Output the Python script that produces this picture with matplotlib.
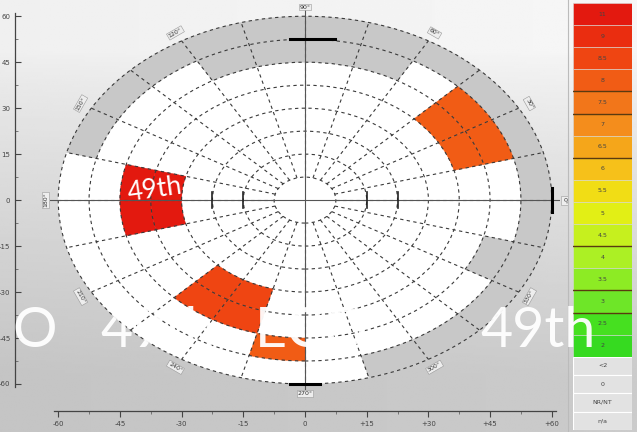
import numpy as np
import matplotlib
matplotlib.use('Agg')
import matplotlib.pyplot as plt
from matplotlib.patches import Wedge, Circle

# polar grid of the field: ring edges (deg) and sectors (deg)
ring_edges = [0, 7.5, 15, 22.5, 30, 37.5, 45, 52.5, 60]
sector_edges = list(range(0, 361, 15))
label_angles = list(range(0, 360, 30))

# legend classes, top to bottom
legend_labels = ['11', '9', '8.5', '8', '7.5', '7', '6.5', '6', '5.5', '5',
                 '4.5', '4', '3.5', '3', '2.5', '2']
legend_colors = ['#e3190f', '#ea2d10', '#ef4512', '#f15c15', '#f2761a', '#f48d1c',
                 '#f5a61a', '#f6c11a', '#f1dd15', '#e2ef15', '#c6f01e', '#acf024',
                 '#8deb24', '#6ee628', '#46e020', '#36da20']
legend_breaks = [4, 5, 7, 11, 13, 14]
extra_labels = ['<2', '0', 'NR/NT', 'n/a']

# measured cells: ring index, sector index, legend class
cell_ring = [4, 5, 4, 5, 5, 6, 5, 6, 4, 5, 4, 5, 6]
cell_sector = [11, 11, 12, 12, 1, 1, 2, 2, 15, 15, 16, 16, 17]
cell_class = [0, 0, 0, 0, 3, 3, 3, 3, 2, 2, 2, 2, 3]

# untested cells (grey): ring index, sector index
grey_ring = [7] * 11 + [7] * 5 + [6] * 4 + [6]
grey_sector = list(range(0, 11)) + list(range(19, 24)) + [4, 5, 6, 7] + [22]

xticks = [-60, -45, -30, -15, 0, 15, 30, 45, 60]
xticklabels = ['-60', '-45', '-30', '-15', '0', '+15', '+30', '+45', '+60']
yticks = [-60, -45, -30, -15, 0, 15, 30, 45, 60]
yticklabels = ['-60', '-45', '-30', '-15', '0', '15', '30', '45', '60']

fig = plt.figure(figsize=(6.37, 4.32), dpi=100)

# grey gradient backdrop
bg = fig.add_axes([0, 0, 1, 1], zorder=-10)
gy = np.linspace(0, 1, 200)[:, None]
gx = np.linspace(0, 1, 200)[None, :]
shade = 0.965 - 0.17 * np.clip((gy - 0.12) / 0.75, 0, 1) ** 0.8 - 0.025 * (1 - gx)
bg.imshow(np.clip(shade, 0, 1), cmap='gray', vmin=0, vmax=1, aspect='auto',
          extent=[0, 1, 1, 0])
bg.set_xlim(0, 1)
bg.set_ylim(1, 0)
bg.axis('off')

ax = fig.add_axes([0.0785, 0.097, 0.8006, 0.8796])
ax.set_facecolor('none')
ax.set_xlim(-62, 62)
ax.set_ylim(-62, 62)

R = ring_edges[-1]
ax.add_patch(Circle((0, 0), R, facecolor='white', edgecolor='none', zorder=1))

for r, s in zip(grey_ring, grey_sector):
    ax.add_patch(Wedge((0, 0), ring_edges[r + 1], sector_edges[s], sector_edges[s + 1],
                       width=ring_edges[r + 1] - ring_edges[r],
                       facecolor='#c8c8c8', edgecolor='#c8c8c8', lw=0.3, zorder=2))

for r, s, c in zip(cell_ring, cell_sector, cell_class):
    ax.add_patch(Wedge((0, 0), ring_edges[r + 1], sector_edges[s], sector_edges[s + 1],
                       width=ring_edges[r + 1] - ring_edges[r],
                       facecolor=legend_colors[c], edgecolor=legend_colors[c], lw=0.3, zorder=2))

# dashed grid: rings and spokes
for r in ring_edges[1:]:
    ax.add_patch(Circle((0, 0), r, fill=False, edgecolor='#3a3a3a', lw=0.8,
                        linestyle=(0, (3, 3)), zorder=3))
for a in sector_edges[:-1]:
    t = np.deg2rad(a)
    ax.plot([ring_edges[1] * np.cos(t), R * np.cos(t)],
            [ring_edges[1] * np.sin(t), R * np.sin(t)],
            color='#3a3a3a', lw=0.8, ls=(0, (3, 3)), zorder=3)

# meridian axes through the centre
ax.plot([-63, 63], [0, 0], color='#555555', lw=0.8, zorder=4)
ax.plot([0, 0], [-63, 63], color='#555555', lw=0.8, zorder=4)
for x in [-22.5, -15, 15, 22.5]:
    ax.plot([x, x], [-2.5, 2.5], color='#222222', lw=1.2, zorder=4)
ax.plot([-3.7, 7.3], [52.5, 52.5], color='black', lw=2.2, zorder=4)
ax.plot([-3.7, 3.7], [-60, -60], color='black', lw=2.2, zorder=4)
ax.plot([60, 60], [-4, 4], color='black', lw=2.2, zorder=4)

for a in label_angles:
    t = np.deg2rad(a)
    ax.text(63 * np.cos(t), 63 * np.sin(t), '%d°' % a, fontsize=4.5, color='#333333',
            ha='center', va='center', rotation=(a - 90) if a <= 180 else (a + 90),
            bbox=dict(boxstyle='square,pad=0.15', fc='#eeeeee', ec='#999999', lw=0.4),
            zorder=5)

for side in ['top', 'right']:
    ax.spines[side].set_visible(False)
ax.spines['left'].set_position(('outward', 25))
ax.spines['bottom'].set_position(('outward', 15))
ax.spines['left'].set_bounds(-61, 61)
ax.spines['bottom'].set_bounds(-61, 61)
for side in ['left', 'bottom']:
    ax.spines[side].set_color('#444444')
    ax.spines[side].set_linewidth(0.9)
ax.set_xticks(xticks)
ax.set_xticklabels(xticklabels)
ax.set_yticks(yticks)
ax.set_yticklabels(yticklabels)
ax.set_xticks(np.arange(-52.5, 60, 15), minor=True)
ax.set_yticks(np.arange(-52.5, 60, 15), minor=True)
ax.tick_params(axis='both', which='major', labelsize=5, colors='#444444', length=4, width=0.8)
ax.tick_params(axis='both', which='minor', length=2, width=0.6, colors='#666666')
ax.tick_params(axis='y', which='both', direction='in')
ax.tick_params(axis='x', which='both', direction='out')

# legend column on the right
fig.add_artist(plt.Line2D([0.892, 0.892], [0.0, 1.0], color='#bbbbbb', lw=0.8))
cb = fig.add_axes([0.9, 0.174, 0.092, 0.819])
n = len(legend_labels)
cb.barh(np.arange(n), 1, height=1, color=legend_colors, edgecolor='#d8d8d8', lw=0.4)
for i, lab in enumerate(legend_labels):
    cb.text(0.5, i, lab, ha='center', va='center', fontsize=4.5, color='#444444')
for b in legend_breaks:
    cb.axhline(b - 0.5, color='#5a3a10', lw=1.0)
cb.set_xlim(0, 1)
cb.set_ylim(n - 0.5, -0.5)
cb.axis('off')

cb2 = fig.add_axes([0.9, 0.005, 0.092, 0.169])
m = len(extra_labels)
cb2.barh(np.arange(m), 1, height=1, color='#e2e2e2', edgecolor='#ffffff', lw=0.8)
for i, lab in enumerate(extra_labels):
    cb2.text(0.5, i, lab, ha='center', va='center', fontsize=4.5, color='#444444')
cb2.set_xlim(0, 1)
cb2.set_ylim(m - 0.5, -0.5)
cb2.axis('off')

# white watermark lettering
wm = dict(color='white', fontsize=40, fontweight='normal', family=['Lato', 'DejaVu Sans'],
          va='center', alpha=0.95, zorder=20)
fig.text(0.02, 0.232, 'O', ha='left', **wm)
fig.text(0.157, 0.232, '49th', ha='left', **wm)
fig.text(0.40, 0.232, 'ECO', ha='left', **wm)
fig.text(0.754, 0.232, '49th', ha='left', **wm)
fig.text(0.198, 0.56, '49th', ha='left', color='white', fontsize=19, fontweight='normal',
         family=['Lato', 'DejaVu Sans'], va='center', rotation=8, zorder=20)

fig.savefig('out.png', dpi=100)
